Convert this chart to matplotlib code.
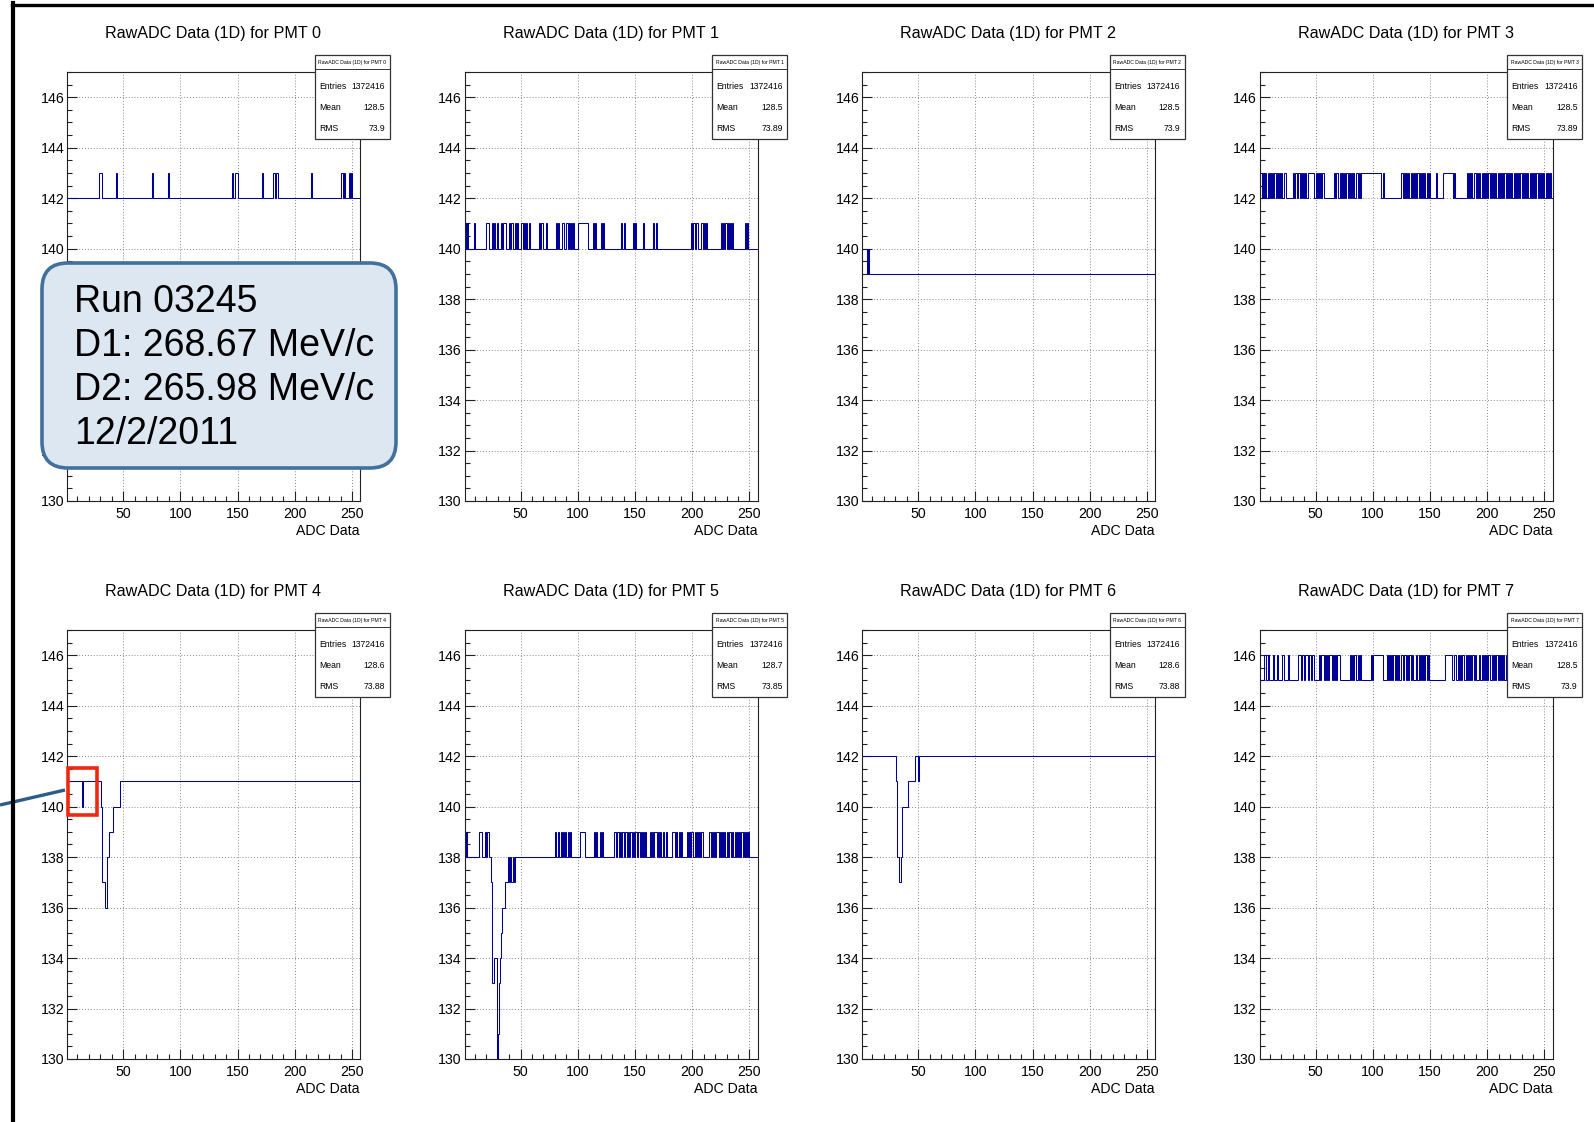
"""RawADC (1D) pedestal traces for PMT 0-7, ROOT-canvas style, 2x4 grid,
with the run annotation callout drawn on top of the PMT 0 / PMT 4 panels."""

import matplotlib

matplotlib.use("Agg")
import matplotlib.pyplot as plt
import numpy as np
from matplotlib.patches import FancyBboxPatch, Rectangle
from matplotlib.ticker import MultipleLocator

plt.rcParams["font.family"] = ["Liberation Sans", "DejaVu Sans"]

W, H = 1594, 1122

# ---- data ---------------------------------------------------------------
PMT_IDS = [0, 1, 2, 3, 4, 5, 6, 7]
ENTRIES = ["1372416"] * 8
MEANS = ["128.5", "128.5", "128.5", "128.5", "128.6", "128.7", "128.6", "128.5"]
RMSS = ["73.9", "73.89", "73.9", "73.89", "73.88", "73.85", "73.88", "73.9"]

N_BINS = 256
# level most bins sit on, per PMT
BASE_LEVEL = [142, 140, 139, 142, 141, 138, 142, 145]

# bins (1-based) sitting one count above the base level
PMT0_UP = [29, 30, 31, 44, 75, 89, 145, 148, 149, 171, 181, 182, 184, 214,
           240, 241, 243, 247, 249]
PMT1_UP = [1, 3, 9, 20, 21, 25, 27, 29, 33, 35, 36, 40, 42, 45, 47, 50, 51,
           53, 55, 57, 66, 68, 69, 72, 81, 83, 86, 87, 90, 92, 94, 96, 100,
           101, 102, 103, 104, 105, 106, 107, 108, 113, 115, 120, 122, 138,
           140, 148, 150, 157, 166, 168, 199, 201, 203, 204, 208, 210, 212,
           225, 227, 229, 231, 233, 235, 246, 248]
PMT2_UP = [1, 2, 3, 4, 6]
PMT3_UP = [1, 2, 4, 6, 8, 10, 12, 14, 16, 18, 20, 22, 23, 30, 32, 33, 35,
           37, 39, 41, 43, 44, 45, 46, 47, 48, 50, 52, 54, 56, 66, 68, 69,
           71, 73, 75, 77, 79, 81, 83, 85, 86, 88, 90, 91, 92, 93, 94, 95,
           96, 97, 98, 99, 100, 101, 102, 103, 104, 105, 106, 109, 125, 127,
           129, 131, 133, 135, 137, 139, 141, 143, 145, 147, 149, 155, 161,
           162, 163, 164, 165, 166, 167, 168, 169, 171, 182, 184, 186, 188,
           189, 191, 193, 195, 197, 199, 201, 203, 205, 207, 209, 211, 213,
           215, 217, 219, 221, 223, 225, 227, 229, 231, 233, 235, 237, 239,
           241, 243, 245, 247, 249, 251, 253, 255]
PMT4_UP = []
PMT5_UP = [2, 14, 15, 19, 21, 80, 83, 85, 87, 89, 91, 93, 102, 103, 104, 105,
           114, 116, 119, 121, 132, 134, 135, 137, 139, 141, 142, 144, 146,
           148, 150, 151, 153, 155, 157, 159, 163, 165, 167, 168, 170, 172,
           174, 177, 182, 183, 184, 186, 188, 190, 195, 197, 199, 200, 202,
           204, 206, 208, 215, 217, 219, 221, 222, 224, 226, 228, 230, 232,
           233, 235, 237, 239, 241, 243, 245, 247, 249]
PMT6_UP = []
PMT7_UP = [5, 6, 8, 13, 16, 21, 26, 35, 36, 38, 39, 41, 42, 44, 45, 47, 48,
           53, 55, 56, 58, 60, 62, 63, 65, 67, 69, 70, 80, 82, 84, 87, 89, 98,
           100, 101, 102, 103, 104, 105, 106, 107, 108, 112, 114, 116, 118,
           120, 122, 125, 127, 128, 130, 132, 134, 138, 140, 142, 144, 146,
           148, 163, 164, 165, 166, 167, 168, 171, 172, 174, 176, 178, 179,
           181, 183, 185, 187, 189, 193, 195, 197, 199, 201, 204, 206, 208,
           210, 212, 214, 216, 219, 221, 223, 226, 228, 231, 233, 236, 238,
           241, 243, 246, 248, 251, 253]
UP_BINS = [PMT0_UP, PMT1_UP, PMT2_UP, PMT3_UP, PMT4_UP, PMT5_UP, PMT6_UP, PMT7_UP]

# the dips (bin -> level) near the start of PMT 2, 4, 5, 6
PMT2_DIP = {5: 139}
PMT4_DIP = {14: 140, 31: 140, 32: 137, 33: 137, 34: 136, 35: 136, 36: 138,
            37: 138, 38: 139, 39: 139, 40: 139, 41: 140, 42: 140, 43: 140,
            44: 140, 45: 140, 46: 140}
PMT5_DIP = {24: 137, 25: 133, 26: 133, 27: 134, 28: 134, 29: 130, 30: 131,
            31: 133, 32: 134, 33: 135, 34: 136, 35: 136, 36: 137, 37: 137,
            38: 137, 40: 137, 42: 137, 44: 137}
PMT6_DIP = {31: 141, 32: 138, 33: 137, 34: 137, 35: 138, 36: 140, 37: 140,
            38: 140, 39: 140, 40: 140, 41: 141, 42: 141, 43: 141, 44: 141,
            45: 141, 46: 141, 50: 141}
DIPS = [{}, {}, PMT2_DIP, {}, PMT4_DIP, PMT5_DIP, PMT6_DIP, {}]

RUN_LINES = ["Run 03245", "D1: 268.67 MeV/c", "D2: 265.98 MeV/c", "12/2/2011"]

# ---- layout (pixels, top-down) ------------------------------------------
COL_LEFT = [67, 464.5, 862, 1259.5]
ROW_TOP = [72, 630]
AX_W, AX_H = 293, 429
LINE_COLOR = "#000099"
TICK_FS = 10.2


def bin_values(i):
    vals = np.full(N_BINS, float(BASE_LEVEL[i]))
    for b in UP_BINS[i]:
        vals[b - 1] = BASE_LEVEL[i] + 1
    for b, v in DIPS[i].items():
        vals[b - 1] = v
    return vals


def draw_panel(fig, ov, i):
    left = COL_LEFT[i % 4]
    top = ROW_TOP[i // 4]
    ax = fig.add_axes([left / W, 1 - (top + AX_H) / H, AX_W / W, AX_H / H])
    edges = np.arange(1, N_BINS + 2)
    ax.stairs(bin_values(i), edges, baseline=None, color=LINE_COLOR, linewidth=0.75)

    ax.set_xlim(1, 257)
    ax.set_ylim(130, 147)
    ax.xaxis.set_major_locator(MultipleLocator(50))
    ax.xaxis.set_minor_locator(MultipleLocator(10))
    ax.yaxis.set_major_locator(MultipleLocator(2))
    ax.yaxis.set_minor_locator(MultipleLocator(0.5))
    ax.set_axisbelow(True)
    ax.grid(which="major", color="#888888", linestyle=(0, (1, 2)), linewidth=0.7)
    ax.tick_params(which="both", direction="in", top=False, right=False,
                   labelsize=TICK_FS, color="#222222")
    ax.tick_params(which="major", length=7, width=0.8)
    ax.tick_params(which="minor", length=3.5, width=0.8)
    ax.tick_params(axis="x", pad=4)
    ax.tick_params(axis="y", pad=2)
    for sp in ax.spines.values():
        sp.set_linewidth(0.8)
        sp.set_color("#222222")

    title = f"RawADC Data (1D) for PMT {PMT_IDS[i]}"
    ov.text(left + AX_W / 2, top - 38.5, title, ha="center", va="center", fontsize=11.6)
    ov.text(left + AX_W, top + AX_H + 30, "ADC Data", ha="right", va="center", fontsize=TICK_FS)

    # ROOT stats box, hanging over the top-right corner of the frame
    bx, by = left + 248, top - 17
    ov.add_patch(Rectangle((bx, by), 75, 84, facecolor="white",
                           edgecolor="#333333", linewidth=0.9))
    ov.plot([bx, bx + 75], [by + 14, by + 14], color="#333333", linewidth=0.7)
    ov.text(bx + 37.5, by + 7, title, ha="center", va="center", fontsize=3.7)
    rows = [("Entries", ENTRIES[i]), ("Mean", MEANS[i]), ("RMS", RMSS[i])]
    for k, (lab, val) in enumerate(rows):
        y = by + 31 + 21 * k
        ov.text(bx + 4, y, lab, ha="left", va="center", fontsize=6.2)
        ov.text(bx + 70, y, val, ha="right", va="center", fontsize=6.2)


def main():
    fig = plt.figure(figsize=(W / 100, H / 100), dpi=100)
    ov = fig.add_axes([0, 0, 1, 1], zorder=10)
    ov.set_xlim(0, W)
    ov.set_ylim(H, 0)
    ov.axis("off")
    ov.patch.set_alpha(0)

    for i in range(len(PMT_IDS)):
        draw_panel(fig, ov, i)

    # callout pointing at the first bins of PMT 4
    ov.plot([0, 65], [805, 790], color="#2e5c8a", linewidth=2.4, solid_capstyle="butt")
    ov.add_patch(Rectangle((68, 768), 29, 47, fill=False, edgecolor="#f02810", linewidth=2.6))

    # slide border
    ov.plot([13.5, 13.5], [3, H], color="black", linewidth=3)
    ov.plot([12, W], [4.5, 4.5], color="black", linewidth=2.4)

    ov.add_patch(FancyBboxPatch((42, 263), 354, 205,
                                boxstyle="round,pad=0,rounding_size=26",
                                facecolor="#dde7f2", edgecolor="#41719c", linewidth=2.6))
    for k, line in enumerate(RUN_LINES):
        ov.text(74, 312 + 44 * k, line, ha="left", va="baseline", fontsize=27)

    fig.savefig("out.png", dpi=100)
    plt.close(fig)


if __name__ == "__main__":
    main()
